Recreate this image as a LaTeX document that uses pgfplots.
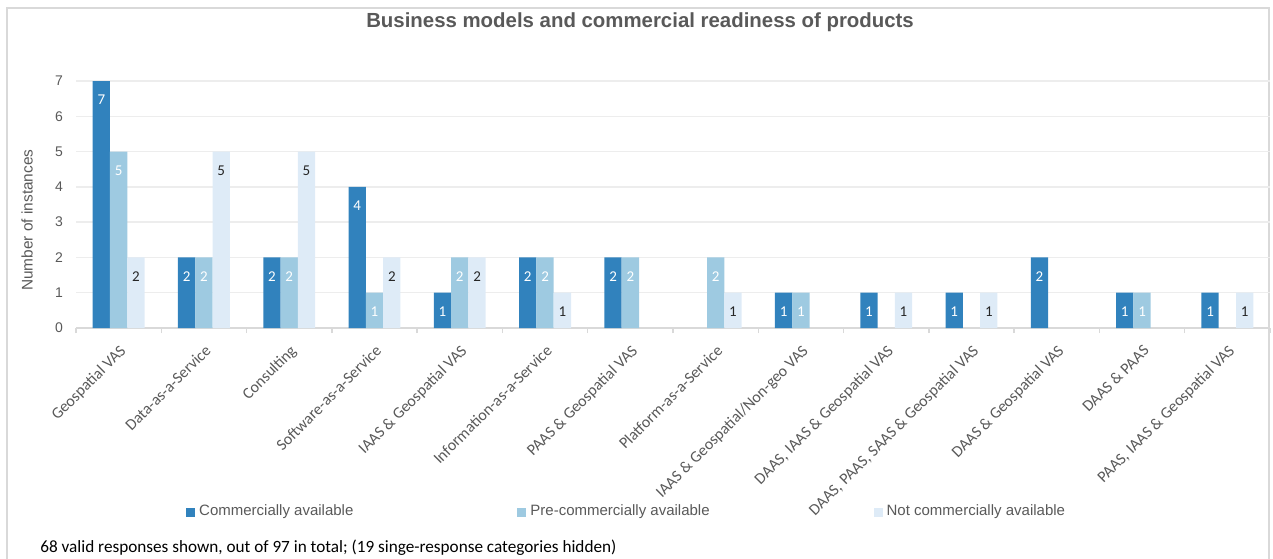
\documentclass[border=0pt]{standalone}
\usepackage{pgfplots}
\pgfplotsset{compat=1.18}
\usepackage{fontspec}
\setmainfont{Liberation Sans}
\newfontfamily\calfont{Carlito}
\definecolor{cA}{HTML}{3182BD}
\definecolor{cB}{HTML}{9ECAE1}
\definecolor{cC}{HTML}{DEEBF7}
\definecolor{txt}{HTML}{595959}
\definecolor{gridc}{HTML}{EDEDED}
\definecolor{framec}{HTML}{D9D9D9}
\begin{document}
\begin{tikzpicture}
\useasboundingbox (0,0) rectangle (636.5pt,279pt);
\draw[framec, line width=1pt] (3.5pt,-5pt) -- (3.5pt,275pt) -- (634.5pt,275pt) -- (634.5pt,-5pt);
\begin{axis}[
 at={(38pt,115pt)}, anchor=south west,
 scale only axis, width=597pt, height=123.5pt,
 clip=false,
 ybar=0pt, bar width=8.65pt,
 xmin=-0.5, xmax=13.5, ymin=0, ymax=7,
 xtick={0,...,13},
 xticklabels={Geospatial VAS, Data-as-a-Service, Consulting, Software-as-a-Service, IAAS \& Geospatial VAS, Information-as-a-Service, PAAS \& Geospatial VAS, Platform-as-a-Service, IAAS \& Geospatial/Non-geo VAS, {DAAS, IAAS \& Geospatial VAS}, {DAAS, PAAS, SAAS \& Geospatial VAS}, DAAS \& Geospatial VAS, DAAS \& PAAS, {PAAS, IAAS \& Geospatial VAS}},
 minor xtick={-0.5,0.5,...,13.5},
 major tick length=0pt, minor tick length=2.5pt,
 xtick align=outside,
 tick style={color=framec, line width=0.75pt},
 axis x line*=bottom, axis y line*=left,
 y axis line style={draw=none},
 x axis line style={framec, line width=0.9pt},
 ymajorgrids, grid style={gridc, line width=0.75pt},
 ytick={0,...,7},
 /pgf/number format/assume math mode=true,
 yticklabel style={font=\fontsize{7}{8}\selectfont, text=txt, xshift=-3pt},
 xticklabel shift=3pt,
 xticklabel style={font=\calfont\fontsize{8}{9}\selectfont, text=txt, rotate=45, anchor=north east},
 title={Business models and commercial readiness of products},
 title style={at={(axis description cs:0.4724,1.190)}, anchor=center, yshift=0pt, font=\bfseries\fontsize{10.2}{12}\selectfont, text=txt},
 ylabel={Number of instances},
 ylabel style={at={(axis description cs:-0.041,0.437)}, anchor=center, font=\fontsize{7.7}{9}\selectfont, text=txt},
 legend style={at={(axis description cs:0.462,-0.745)}, anchor=center, draw=none, fill=none, legend columns=3, font=\fontsize{7.5}{9}\selectfont, text=txt, /tikz/column 2/.style={column sep=80pt}, /tikz/column 4/.style={column sep=80pt}},
 legend image code/.code={\fill[#1] (0pt,-2.25pt) rectangle (4.5pt,2.25pt);},
 nodes near coords,
 every node near coord/.append style={font=\calfont\fontsize{7.5}{8}\selectfont, anchor=center, yshift=-9.5pt},
]
\addplot[fill=cA, draw=none, every node near coord/.append style={text=white}] coordinates {(0,7)(1,2)(2,2)(3,4)(4,1)(5,2)(6,2)(8,1)(9,1)(10,1)(11,2)(12,1)(13,1)};
\addlegendentry{Commercially available}
\addplot[fill=cB, draw=none, every node near coord/.append style={text=white}] coordinates {(0,5)(1,2)(2,2)(3,1)(4,2)(5,2)(6,2)(7,2)(8,1)(12,1)};
\addlegendentry{Pre-commercially available}
\addplot[fill=cC, draw=none, every node near coord/.append style={text=black!85}] coordinates {(0,2)(1,5)(2,5)(3,2)(4,2)(5,1)(7,1)(9,1)(10,1)(13,1)};
\addlegendentry{Not commercially available}
\node[anchor=west, font=\calfont\fontsize{8.6}{10}\selectfont, text=black, inner sep=0pt] at (axis description cs:-0.0302,-0.891) {68 valid responses shown, out of 97 in total; (19 singe-response categories hidden)};
\end{axis}
\end{tikzpicture}
\end{document}
